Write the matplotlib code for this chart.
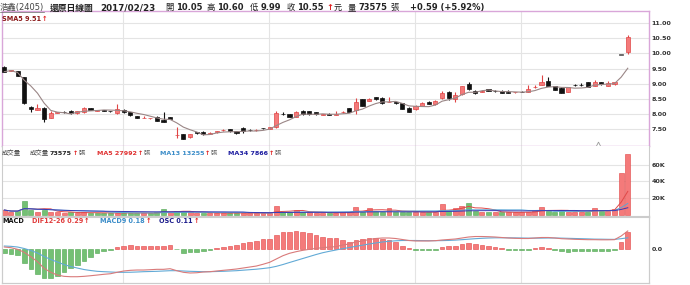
import matplotlib
matplotlib.use('Agg')
import matplotlib.pyplot as plt
import numpy as np
import pandas as pd

plt.rcParams['font.family'] = ['DejaVu Sans', 'Noto Sans CJK TC']

# ---------------- data ----------------
opens = [9.56, 9.43, 9.42, 9.21, 8.24, 8.13, 8.21, 7.87, 8.04, 8.07,
         8.10, 8.02, 8.05, 8.19, 8.10, 8.12, 8.10, 8.02, 8.13, 8.05,
         7.93, 7.86, 7.85, 7.91, 7.79, 7.89, 7.29, 7.33, 7.22, 7.39,
         7.40, 7.35, 7.40, 7.46, 7.49, 7.43, 7.54, 7.48, 7.46, 7.53,
         7.50, 7.58, 8.01, 7.99, 7.91, 8.11, 8.08, 8.05, 7.98, 8.01,
         7.98, 8.05, 8.19, 8.13, 8.48, 8.43, 8.55, 8.54, 8.39, 8.40,
         8.35, 8.19, 8.15, 8.27, 8.40, 8.32, 8.52, 8.73, 8.49, 8.65,
         8.99, 8.77, 8.74, 8.81, 8.77, 8.77, 8.71, 8.71, 8.73, 8.74,
         8.88, 8.96, 9.09, 8.93, 8.87, 8.74, 8.97, 8.97, 9.04, 8.93,
         9.05, 8.93, 8.99, 9.96, 10.05]
highs = [9.58, 9.47, 9.43, 9.22, 8.26, 8.32, 8.22, 8.11, 8.07, 8.09,
         8.12, 8.11, 8.24, 8.20, 8.13, 8.14, 8.11, 8.32, 8.15, 8.06,
         7.94, 7.92, 7.88, 7.92, 8.06, 7.90, 7.55, 7.34, 7.34, 7.40,
         7.43, 7.39, 7.44, 7.50, 7.50, 7.44, 7.56, 7.50, 7.49, 7.54,
         7.58, 8.10, 8.05, 8.00, 8.10, 8.12, 8.09, 8.06, 8.00, 8.02,
         8.10, 8.10, 8.20, 8.54, 8.49, 8.52, 8.57, 8.55, 8.56, 8.41,
         8.36, 8.22, 8.29, 8.40, 8.42, 8.45, 8.75, 8.75, 8.74, 8.93,
         9.06, 8.78, 8.80, 8.82, 8.80, 8.78, 8.79, 8.74, 8.76, 8.97,
         8.95, 9.30, 9.22, 8.94, 8.88, 8.89, 9.00, 9.01, 9.05, 9.13,
         9.06, 9.09, 9.05, 9.96, 10.60]
lows = [9.38, 9.42, 9.24, 8.33, 8.05, 8.12, 7.74, 7.86, 8.03, 8.04,
        8.01, 8.01, 8.04, 8.12, 8.09, 8.09, 8.07, 8.01, 8.04, 7.94,
        7.86, 7.85, 7.84, 7.75, 7.72, 7.82, 7.19, 7.16, 7.21, 7.35,
        7.30, 7.33, 7.38, 7.45, 7.41, 7.35, 7.36, 7.45, 7.45, 7.51,
        7.49, 7.54, 7.98, 7.90, 7.90, 7.98, 7.98, 7.98, 7.97, 7.97,
        7.97, 8.04, 8.06, 7.99, 8.26, 8.42, 8.47, 8.34, 8.38, 8.34,
        8.15, 8.05, 8.14, 8.26, 8.32, 8.31, 8.50, 8.45, 8.40, 8.62,
        8.80, 8.66, 8.73, 8.75, 8.73, 8.69, 8.69, 8.70, 8.71, 8.73,
        8.85, 8.95, 8.92, 8.78, 8.69, 8.73, 8.93, 8.92, 8.89, 8.92,
        8.97, 8.92, 8.96, 9.96, 9.99]
closes = [9.40, 9.46, 9.25, 8.35, 8.16, 8.21, 7.82, 8.04, 8.06, 8.06,
          8.02, 8.10, 8.19, 8.13, 8.12, 8.11, 8.08, 8.15, 8.05, 7.95,
          7.87, 7.88, 7.87, 7.76, 7.74, 7.83, 7.31, 7.17, 7.33, 7.37,
          7.35, 7.37, 7.42, 7.48, 7.42, 7.36, 7.44, 7.47, 7.48, 7.52,
          7.57, 8.02, 8.00, 7.91, 8.05, 7.99, 7.99, 7.99, 7.99, 7.98,
          7.99, 8.07, 8.07, 8.40, 8.27, 8.49, 8.48, 8.35, 8.40, 8.35,
          8.16, 8.07, 8.27, 8.37, 8.33, 8.43, 8.70, 8.52, 8.63, 8.92,
          8.81, 8.70, 8.77, 8.76, 8.76, 8.70, 8.70, 8.72, 8.72, 8.82,
          8.90, 9.07, 8.93, 8.79, 8.70, 8.88, 8.96, 8.96, 8.90, 9.07,
          8.98, 9.02, 9.05, 9.96, 10.55]
volumes = [5400, 3000, 4000, 16000, 6000, 3500, 5500, 3000, 2500, 2000,
           2500, 2000, 2500, 2000, 1800, 1800, 1800, 2000, 2000, 2000,
           2000, 1500, 1500, 2500, 6500, 2500, 4500, 3500, 2500, 2000,
           2000, 1500, 1500, 2000, 1800, 2000, 2000, 1500, 1500, 1500,
           2000, 10000, 3500, 3000, 5000, 3000, 2500, 2000, 1800, 2000,
           2000, 2500, 3000, 9500, 3500, 8300, 4000, 3500, 7300, 3000,
           3500, 2500, 3000, 3500, 2500, 3000, 12700, 4500, 7500, 10000,
           14300, 4000, 3500, 3000, 3000, 2500, 2500, 2500, 3000, 3500,
           4000, 9500, 4500, 3500, 4000, 3500, 3500, 3000, 3500, 8300,
           4500, 4200, 7000, 50700, 73575]
osc = [-0.027, -0.032, -0.038, -0.091, -0.129, -0.161, -0.186, -0.183, -0.170, -0.144,
       -0.123, -0.102, -0.076, -0.049, -0.027, -0.011, -0.004, 0.011, 0.021, 0.024,
       0.021, 0.021, 0.019, 0.021, 0.021, 0.025, -0.002, -0.024, -0.021, -0.017,
       -0.013, -0.006, 0.004, 0.015, 0.021, 0.025, 0.036, 0.046, 0.053, 0.062,
       0.064, 0.089, 0.106, 0.110, 0.114, 0.110, 0.100, 0.089, 0.078, 0.072,
       0.068, 0.057, 0.046, 0.057, 0.064, 0.068, 0.072, 0.064, 0.057, 0.043,
       0.021, 0.004, -0.004, -0.006, -0.006, -0.004, 0.015, 0.019, 0.021, 0.034,
       0.040, 0.030, 0.025, 0.021, 0.013, 0.004, -0.004, -0.006, -0.006, -0.004,
       0.008, 0.011, 0.006, -0.008, -0.015, -0.017, -0.015, -0.013, -0.011, -0.011,
       -0.011, -0.011, -0.008, 0.046, 0.110]
dif = [0.032, 0.021, -0.005, -0.053, -0.124, -0.204, -0.311, -0.375, -0.419, -0.440,
       -0.446, -0.446, -0.440, -0.430, -0.419, -0.407, -0.398, -0.375, -0.354, -0.343,
       -0.338, -0.338, -0.333, -0.327, -0.327, -0.317, -0.349, -0.375, -0.386, -0.382,
       -0.370, -0.365, -0.354, -0.343, -0.333, -0.322, -0.306, -0.290, -0.274, -0.246,
       -0.214, -0.161, -0.108, -0.069, -0.043, -0.021, -0.005, 0.011, 0.021, 0.032,
       0.037, 0.064, 0.081, 0.113, 0.129, 0.153, 0.169, 0.177, 0.177, 0.169,
       0.153, 0.137, 0.129, 0.129, 0.129, 0.134, 0.145, 0.153, 0.161, 0.177,
       0.193, 0.201, 0.201, 0.198, 0.193, 0.185, 0.177, 0.172, 0.169, 0.169,
       0.177, 0.185, 0.185, 0.177, 0.166, 0.161, 0.156, 0.153, 0.150, 0.150,
       0.148, 0.148, 0.150, 0.209, 0.290]
dea = [0.048, 0.043, 0.032, 0.008, -0.024, -0.064, -0.121, -0.169, -0.209, -0.250,
       -0.282, -0.306, -0.330, -0.346, -0.359, -0.365, -0.370, -0.375, -0.375, -0.374,
       -0.370, -0.365, -0.362, -0.359, -0.354, -0.349, -0.349, -0.354, -0.359, -0.362,
       -0.365, -0.365, -0.362, -0.359, -0.354, -0.349, -0.341, -0.333, -0.325, -0.314,
       -0.301, -0.279, -0.250, -0.217, -0.185, -0.153, -0.121, -0.089, -0.060, -0.037,
       -0.016, 0.005, 0.024, 0.043, 0.061, 0.081, 0.097, 0.113, 0.124, 0.132,
       0.137, 0.137, 0.137, 0.135, 0.134, 0.134, 0.135, 0.138, 0.143, 0.150,
       0.158, 0.166, 0.172, 0.177, 0.180, 0.180, 0.180, 0.179, 0.177, 0.175,
       0.175, 0.175, 0.177, 0.177, 0.175, 0.172, 0.169, 0.166, 0.163, 0.159,
       0.158, 0.156, 0.155, 0.166, 0.180]
month_starts = [18, 40, 62, 78]
event_marks = [89.5]
price_ticks = [7.5, 8.0, 8.5, 9.0, 9.5, 10.0, 10.5, 11.0]
vol_ticks = [20000, 40000, 60000]
vol_tick_labels = ['20K', '40K', '60K']
macd_ticks = [0.0]
macd_tick_labels = ['0.0']

# ---------------- style ----------------
W, H = 690, 285
RED_FILL, RED_EDGE = '#f47a7a', '#e04545'
GRN_FILL, GRN_EDGE = '#74c074', '#4ea44e'
GRID = '#e4e4e4'
PINK = '#d9a6d9'
TXT = '#333333'
ARROW_RED = '#e02020'

x = np.arange(len(closes))
o = np.array(opens); c = np.array(closes); h = np.array(highs); l = np.array(lows)
up = c > o
flat = c == o
prev_c = np.concatenate([[c[0]], c[:-1]])
vol_up = c >= prev_c

fig = plt.figure(figsize=(W / 100, H / 100), dpi=100)
fig.patch.set_facecolor('white')


def rect(top, bottom, left=2, right=649):
    return [left / W, 1 - bottom / H, (right - left) / W, (bottom - top) / H]


def fx(px):
    return px / W


def fy(py):
    return 1 - py / H


XL = (-0.35, 97.2)

# ---------------- price panel ----------------
axp = fig.add_axes(rect(11, 146))
axp.set_xlim(*XL)
axp.set_ylim(6.937, 11.407)
for yv in price_ticks:
    axp.axhline(yv, color=GRID, lw=0.8, zorder=0)
for m in month_starts:
    axp.axvline(m - 0.1, color=GRID, lw=0.8, zorder=0)

body_bottom = np.minimum(o, c)
body_h = np.maximum(np.abs(c - o), 0.012)
colors_f = np.where(up, RED_FILL, np.where(flat, '#555555', '#111111'))
colors_e = np.where(up, RED_EDGE, np.where(flat, '#555555', '#111111'))
axp.vlines(x, l, h, colors=colors_e, lw=0.8, zorder=2)
axp.bar(x, body_h, bottom=body_bottom, width=0.62, color=colors_f,
        edgecolor=colors_e, linewidth=0.5, zorder=3)

sma5 = pd.Series(closes).rolling(5, min_periods=1).mean()
axp.plot(x, sma5, color='#9a8686', lw=0.8, zorder=4)

axp.plot(event_marks, [6.99] * len(event_marks), linestyle='none', marker='^',
         markersize=3.5, markerfacecolor='white', markeredgecolor='#999999',
         markeredgewidth=0.6, zorder=5, clip_on=False)

for s in axp.spines.values():
    s.set_color(PINK)
    s.set_linewidth(1.0)
axp.set_xticks([])
axp.yaxis.tick_right()
axp.set_yticks(price_ticks)
axp.set_yticklabels(['%.2f' % v for v in price_ticks])
axp.tick_params(axis='y', length=0, pad=2, labelsize=4.6, labelcolor=TXT)
for t in axp.get_yticklabels():
    t.set_fontweight('bold')

# ---------------- volume panel ----------------
axv = fig.add_axes(rect(146, 216.5))
axv.set_xlim(*XL)
axv.set_ylim(-2424, 83030)
for yv in vol_ticks:
    axv.axhline(yv, color=GRID, lw=0.8, zorder=0)
for m in month_starts:
    axv.axvline(m - 0.1, color=GRID, lw=0.8, zorder=0)
axv.bar(x, volumes, width=0.75, color=np.where(vol_up, RED_FILL, GRN_FILL),
        edgecolor=np.where(vol_up, RED_EDGE, GRN_EDGE), linewidth=0.4, zorder=2)
vs = pd.Series(volumes)
axv.plot(x, vs.rolling(5, min_periods=1).mean(), color='#e04848', lw=0.7, zorder=3)
axv.plot(x, vs.rolling(13, min_periods=1).mean(), color='#5aa6d6', lw=0.7, zorder=3)
axv.plot(x, vs.rolling(34, min_periods=1).mean(), color='#3a3ab4', lw=0.7, zorder=3)
for s in axv.spines.values():
    s.set_color('#cccccc')
    s.set_linewidth(0.8)
axv.spines['top'].set_visible(False)
axv.set_xticks([])
axv.yaxis.tick_right()
axv.set_yticks(vol_ticks)
axv.set_yticklabels(vol_tick_labels)
axv.tick_params(axis='y', length=0, pad=2, labelsize=4.6, labelcolor=TXT)
for t in axv.get_yticklabels():
    t.set_fontweight('bold')

# ---------------- MACD panel ----------------
axm = fig.add_axes(rect(216.5, 283))
axm.set_xlim(*XL)
axm.set_ylim(-0.216, 0.207)
for m in month_starts:
    axm.axvline(m - 0.1, color=GRID, lw=0.8, zorder=0)
oscv = np.array(osc)
axm.bar(x, oscv, width=0.7, color=np.where(oscv >= 0, RED_FILL, GRN_FILL),
        edgecolor=np.where(oscv >= 0, RED_EDGE, GRN_EDGE), linewidth=0.4, zorder=2)
axl = axm.twinx()
axl.set_xlim(*XL)
axl.set_ylim(-0.547, 0.523)
axl.plot(x, dea, color='#62aad6', lw=0.8, zorder=3)
axl.plot(x, dif, color='#d97a7a', lw=0.8, zorder=4)
axl.set_yticks([])
for a in (axm, axl):
    for s in a.spines.values():
        s.set_color('#cccccc')
        s.set_linewidth(0.8)
axm.set_xticks([])
axm.yaxis.tick_right()
axm.set_yticks(macd_ticks)
axm.set_yticklabels(macd_tick_labels)
axm.tick_params(axis='y', length=0, pad=2, labelsize=4.6, labelcolor=TXT)
for t in axm.get_yticklabels():
    t.set_fontweight('bold')

# ---------------- header texts ----------------
fig.canvas.draw()
renderer = fig.canvas.get_renderer()


def seq(px, py, pieces, gap=0.8):
    """Place text pieces one after another, starting at pixel px."""
    cur = px
    for s, size, color, weight in pieces:
        t = fig.text(fx(cur), fy(py), s, fontsize=size, color=color,
                     fontweight=weight, ha='left', va='center')
        bb = t.get_window_extent(renderer=renderer)
        cur = bb.x1 + gap
    return cur


DK = '#222222'
y1 = 7.8
end = seq(0, y1, [('浩鑫(2405)', 6.0, '#444444', 'normal')])
fig.add_artist(plt.Line2D([fx(0), fx(end - 1)], [fy(12.3), fy(12.3)], color='#666666', lw=0.5))
seq(50, y1, [('還原日線圖', 6.3, DK, 'bold')])
seq(100, y1, [('2017/02/23', 6.3, DK, 'bold')])
seq(165, y1, [('開', 6.0, DK, 'normal'), ('10.05', 6.0, DK, 'bold')], gap=2.5)
seq(206.5, y1, [('高', 6.0, DK, 'normal'), ('10.60', 6.0, DK, 'bold')], gap=2.5)
seq(249.5, y1, [('低', 6.0, DK, 'normal'), ('9.99', 6.0, DK, 'bold')], gap=2.5)
e = seq(286.5, y1, [('收', 6.0, DK, 'normal'), ('10.55', 6.0, DK, 'bold')], gap=2.5)
seq(e, y1, [('↑', 6.0, ARROW_RED, 'bold'), ('元', 5.8, DK, 'normal')], gap=0.5)
seq(348, y1, [('量', 6.0, DK, 'normal'), ('73575', 6.0, DK, 'bold'), ('張', 6.0, DK, 'normal')], gap=2.5)
seq(410, y1, [('+0.59 (+5.92%)', 6.0, DK, 'bold')])

seq(2, 18.8, [('SMA5 9.51', 4.7, '#8b1a1a', 'bold'), ('↑', 4.7, ARROW_RED, 'bold')], gap=0.6)

yv_ = 153.2
FS = 4.6
seq(2, yv_, [('成交量', FS, '#444444', 'normal')])
seq(30, yv_, [('成交量', FS, '#444444', 'normal'), ('73575', FS, DK, 'bold'),
              ('↑', FS, ARROW_RED, 'bold'), ('張', FS, '#555555', 'normal')], gap=0.8)
seq(97, yv_, [('MA5 27992', FS, '#e03030', 'bold'), ('↑', FS, ARROW_RED, 'bold'),
              ('張', FS, '#666666', 'normal')], gap=0.6)
seq(160, yv_, [('MA13 13255', FS, '#3a8cc8', 'bold'), ('↑', FS, ARROW_RED, 'bold'),
               ('張', FS, '#666666', 'normal')], gap=0.6)
seq(228, yv_, [('MA34 7866', FS, '#1c1ca0', 'bold'), ('↑', FS, ARROW_RED, 'bold'),
               ('張', FS, '#666666', 'normal')], gap=0.6)

ym_ = 220.8
FM = 4.7
seq(2, ym_, [('MACD', FM, '#111111', 'bold')])
seq(32, ym_, [('DIF12-26 0.29', FM, '#e03c3c', 'bold'), ('↑', FM, ARROW_RED, 'bold')], gap=0.6)
seq(100, ym_, [('MACD9 0.18', FM, '#3a8cc8', 'bold'), ('↑', FM, ARROW_RED, 'bold')], gap=0.6)
seq(159, ym_, [('OSC 0.11', FM, '#1c1c8c', 'bold'), ('↑', FM, ARROW_RED, 'bold')], gap=0.6)

fig.savefig('out.png', dpi=100, facecolor='white')
